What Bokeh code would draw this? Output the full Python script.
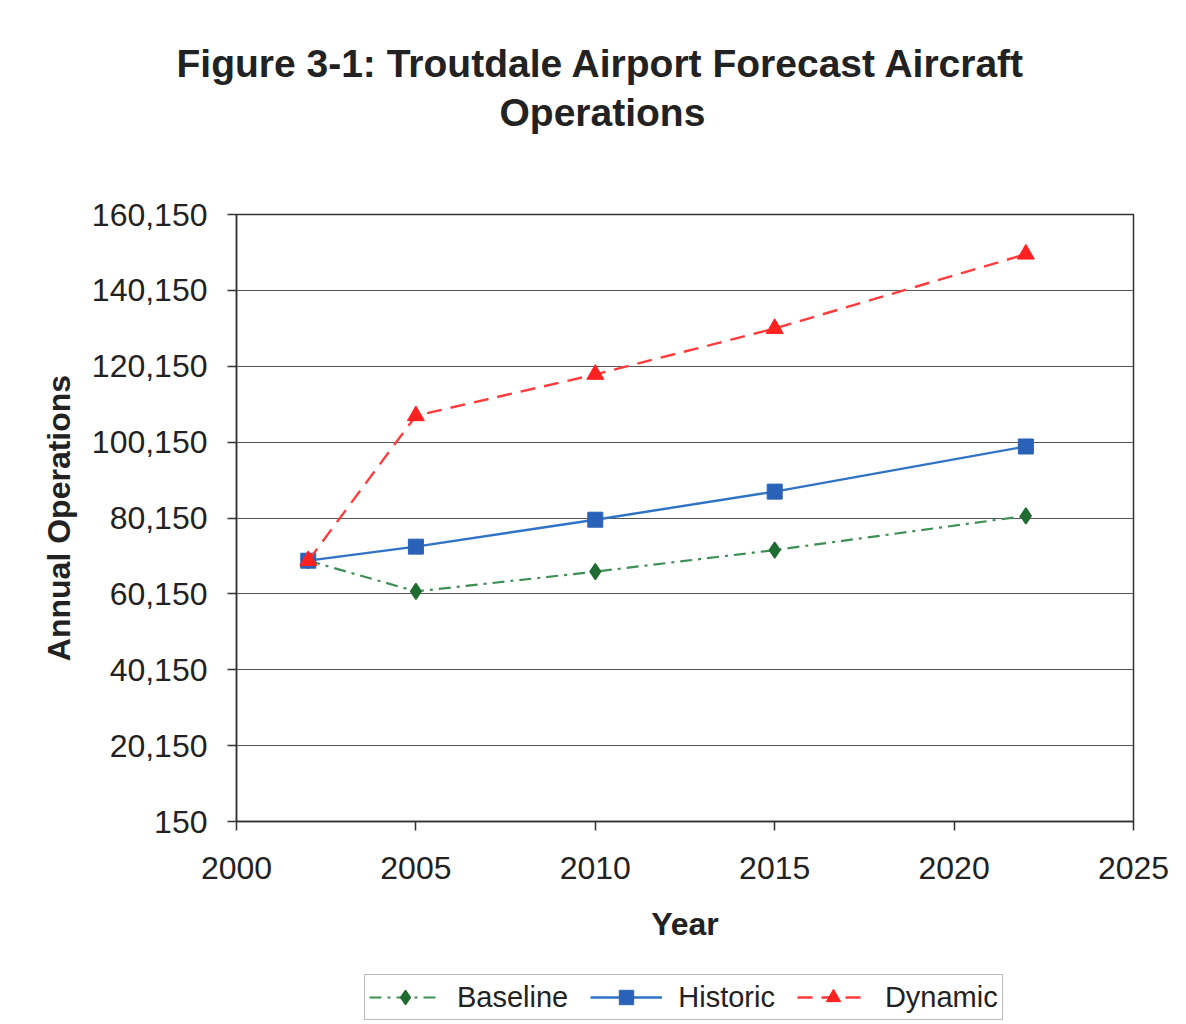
import numpy as np
from bokeh.plotting import figure
from bokeh.layouts import column
from bokeh.models import FixedTicker, NumeralTickFormatter, Title, Legend, LegendItem
from bokeh.embed import file_html
from bokeh.resources import INLINE

# ---- data ----
years = [2002, 2005, 2010, 2015, 2022]
baseline = [68900, 60800, 66000, 71700, 80700]
historic = [68900, 72600, 79700, 87100, 99000]
dynamic = [68900, 107100, 118000, 130100, 149700]
x_ticks = [2000, 2005, 2010, 2015, 2020, 2025]
y_ticks = [150, 20150, 40150, 60150, 80150, 100150, 120150, 140150, 160150]
title_line1 = "Figure 3-1: Troutdale Airport Forecast Aircraft"
title_line2 = "Operations"
x_label = "Year"
y_label = "Annual Operations"
series_names = ["Baseline", "Historic", "Dynamic"]

FONT = "Liberation Sans"
TXT = "#222222"
W = 1180
H_MAIN, H_LEG = 960, 62

g_line, g_mark = "#3d8f55", "#1f6b30"
b_line, b_mark = "#2f72c6", "#2a62b8"
r_line, r_mark = "#ff3b3b", "#ff2020"

# ---- main chart ----
p = figure(width=W, height=H_MAIN, x_range=(2000, 2025), y_range=(150, 160150),
           output_backend="svg", toolbar_location=None,
           min_border_left=236, min_border_top=214, min_border_right=W - 1133,
           min_border_bottom=H_MAIN - 821)
p.background_fill_color = "white"
p.border_fill_color = "white"
p.outline_line_color = "#333333"
p.outline_line_width = 1.5

p.xgrid.grid_line_color = None
p.ygrid.grid_line_color = "#555555"
p.ygrid.grid_line_width = 1.2
p.ygrid.ticker = FixedTicker(ticks=y_ticks)

p.xaxis.ticker = FixedTicker(ticks=x_ticks)
p.yaxis.ticker = FixedTicker(ticks=y_ticks)
p.yaxis.formatter = NumeralTickFormatter(format="0,0")
for ax in (p.xaxis[0], p.yaxis[0]):
    ax.axis_line_color = "#333333"
    ax.axis_line_width = 1.5
    ax.major_tick_line_color = "#333333"
    ax.major_tick_line_width = 1.5
    ax.major_tick_in = 0
    ax.major_tick_out = 9
    ax.minor_tick_line_color = None
    ax.major_label_text_font = FONT
    ax.major_label_text_font_size = "32px"
    ax.major_label_text_color = TXT
    ax.axis_label_text_font = FONT
    ax.axis_label_text_font_size = "32px"
    ax.axis_label_text_font_style = "bold"
    ax.axis_label_text_color = TXT
p.xaxis.axis_label = x_label
p.yaxis.axis_label = y_label
p.xaxis.major_label_standoff = 26
p.xaxis.axis_label_standoff = 24
p.yaxis.major_label_standoff = 20
p.yaxis.axis_label_standoff = 12

styles = [
    dict(line=dict(line_color=g_line, line_width=2.2, line_dash="12 6 3 6"),
         mark=dict(marker="diamond", size=16, line_width=1.5, fill_color=g_mark, line_color=g_mark)),
    dict(line=dict(line_color=b_line, line_width=2.4),
         mark=dict(marker="square", size=15, fill_color=b_mark, line_color=b_mark)),
    dict(line=dict(line_color=r_line, line_width=2.4, line_dash="15 9"),
         mark=dict(marker="triangle", size=17, fill_color=r_mark, line_color=r_mark)),
]
series = [baseline, historic, dynamic]
for vals, st in zip(series, styles):
    p.line(years, vals, **st["line"])
    p.scatter(years, vals, **st["mark"])

# ---- titles: spacer (nearest the frame), then the two centred lines ----
p.add_layout(Title(text=" ", text_font_size="10px", standoff=68), "above")
p.add_layout(Title(text=title_line2, align="left", offset=263, standoff=0,
                   text_font=FONT, text_font_size="39px", text_font_style="bold",
                   text_color=TXT), "above")
p.add_layout(Title(text=title_line1, align="left", offset=-60, standoff=8,
                   text_font=FONT, text_font_size="39px", text_font_style="bold",
                   text_color=TXT), "above")

# ---- legend strip (its frame is aligned with the chart's frame) ----
pl = figure(width=W, height=H_LEG, x_range=(0, 1), y_range=(0, 1),
            output_backend="svg", toolbar_location=None, min_border=0)
pl.axis.visible = False
pl.xgrid.grid_line_color = None
pl.ygrid.grid_line_color = None
pl.outline_line_color = None
pl.background_fill_color = "white"
pl.border_fill_color = "white"
items = []
for name, vals, st in zip(series_names, series, styles):
    # same data, lying outside this strip's ranges: only the legend glyphs show
    rl = pl.line(years, vals, **st["line"])
    rs = pl.scatter(years, vals, **st["mark"])
    items.append(LegendItem(label=name, renderers=[rl, rs]))
legend = Legend(items=items, orientation="horizontal", location=(364 - 236, 2))
legend.label_text_font = FONT
legend.label_text_font_size = "29px"
legend.label_text_color = TXT
legend.glyph_width = 72
legend.glyph_height = 36
legend.label_standoff = 16
legend.spacing = 22
legend.padding = 4
legend.margin = 0
legend.border_line_color = "#777777"
legend.border_line_width = 1.5
legend.background_fill_color = "white"
pl.add_layout(legend, "center")

layout = column(p, pl, spacing=0)
open("out.html", "w").write(file_html(layout, INLINE))
